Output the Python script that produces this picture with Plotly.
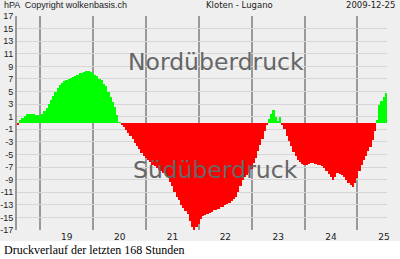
import plotly.graph_objects as go

# ---- data: hourly pressure difference Kloten - Lugano (hPa), last 168 hours
hours = list(range(168))
diff_hpa = [
    -0.3, 0.4, 0.8, 1.1, 1.4, 1.5, 1.5, 1.4, 1.3, 1.2,
    1.1, 1.5, 1.9, 2.4, 3.0, 3.6, 4.3, 5.0, 5.5, 6.0,
    6.3, 6.6, 6.8, 7.0, 7.1, 7.3, 7.5, 7.7, 7.9, 8.0,
    8.1, 8.2, 8.2, 8.1, 7.9, 7.7, 7.5, 7.0, 6.8, 6.2,
    5.8, 5.0, 4.2, 3.3, 2.5, 1.2, 0.1, -0.2, -0.6, -1.1,
    -1.6, -2.1, -2.6, -3.1, -3.7, -4.2, -4.7, -5.2, -5.6, -5.9,
    -6.2, -6.6, -6.9, -7.2, -7.5, -7.7, -8.0, -8.2, -8.6, -9.4,
    -10.0, -11.0, -11.7, -12.3, -13.0, -13.5, -14.0, -14.5, -15.5, -16.6,
    -17.0, -16.6, -16.0, -15.3, -14.8, -14.6, -14.4, -14.3, -14.1, -13.9,
    -13.8, -13.6, -13.4, -13.3, -13.1, -12.9, -12.7, -12.4, -12.1, -11.7,
    -11.0, -10.0, -9.1, -8.6, -8.2, -7.9, -7.3, -6.4, -5.5, -4.5,
    -3.5, -2.6, -1.3, -0.2, 0.6, 1.5, 2.0, 1.0, 0.2, 0.9,
    -0.3, -1.0, -2.0, -2.8, -3.6, -4.6, -5.2, -5.8, -6.2, -6.5,
    -6.7, -6.6, -6.5, -6.4, -6.4, -6.5, -6.6, -6.7, -6.8, -7.2,
    -7.6, -8.1, -8.6, -9.1, -8.6, -8.0, -8.1, -8.3, -8.6, -9.1,
    -9.5, -9.9, -10.2, -9.5, -8.8, -7.7, -6.6, -5.9, -5.3, -4.4,
    -3.8, -2.7, -1.3, 0.5, 2.8, 3.5, 4.2, 4.7,
]
day_labels = ["19", "20", "21", "22", "23", "24", "25"]
y_ticks = list(range(-17, 18, 2))

first_midnight = 10.6   # hour offset of 19 Dec 00:00 from window start
day_centers = [first_midnight + 12 + 24 * k for k in range(len(day_labels))]

x_mid = [h + 0.5 for h in hours]
colors = ["#00ff00" if v >= 0 else "#ff0000" for v in diff_hpa]

W, H = 400, 259
ML, MR, MT, MB = 17, 13, 16, 29
PW, PH = W - ML - MR, H - MT - MB


def px(x):
    return (x - ML) / PW


def py(y):
    return (H - MB - y) / PH


fig = go.Figure()
fig.add_trace(go.Bar(x=x_mid, y=diff_hpa, width=1.0, marker=dict(color=colors, line=dict(width=0)),
                     hoverinfo="x+y", showlegend=False))

BG = "#efefef"
xtick_font = dict(family="DejaVu Sans", size=9, color="#222222")
ytick_font = dict(family="Liberation Sans", size=9, color="#222222")

fig.update_layout(
    width=W, height=H,
    margin=dict(l=ML, r=MR, t=MT, b=MB, pad=0, autoexpand=False),
    paper_bgcolor="white",
    plot_bgcolor=BG,
    bargap=0,
    showlegend=False,
    xaxis=dict(
        range=[0, 168], tickmode="array", tickvals=day_centers, ticktext=day_labels,
        showgrid=False, zeroline=False, showline=False, ticks="", tickfont=xtick_font,
        minor=dict(tickmode="linear", tick0=first_midnight, dtick=24, showgrid=True,
                   gridcolor="#9a9a9a", gridwidth=1.5, ticks=""),
        fixedrange=True, automargin=False,
    ),
    yaxis=dict(
        range=[-17, 17], tickmode="array", tickvals=y_ticks, ticktext=[str(v) for v in y_ticks],
        showgrid=True, gridcolor="#d6d6d6", gridwidth=1, zeroline=False,
        showline=True, linecolor="#9a9a9a", linewidth=2, ticks="", tickfont=ytick_font,
        ticklabelstandoff=0, fixedrange=True, automargin=False,
    ),
    shapes=[dict(type="rect", xref="paper", yref="paper", x0=px(0), x1=px(W), y0=py(241), y1=py(0),
                 fillcolor=BG, line=dict(width=0), layer="below")],
)

hdr = dict(family="DejaVu Sans", size=8.5, color="#222222")
hdr2 = dict(family="Liberation Sans", size=9, color="#222222")
big = dict(family="DejaVu Sans", size=23.5, color="#666666")
ann = [
    dict(text="hPA  Copyright wolkenbasis.ch", x=px(2), y=py(5.5), xanchor="left", yanchor="middle", font=hdr2),
    dict(text="Kloten - Lugano", x=px(240), y=py(5.5), xanchor="center", yanchor="middle", font=hdr),
    dict(text="2009-12-25", x=px(397), y=py(5.5), xanchor="right", yanchor="middle", font=hdr),
    dict(text="Nordüberdruck", x=px(216), y=py(62), xanchor="center", yanchor="middle", font=big),
    dict(text="Südüberdruck", x=px(216), y=py(170), xanchor="center", yanchor="middle", font=big),
    dict(text="Druckverlauf der letzten 168 Stunden", x=px(2), y=py(250), xanchor="left", yanchor="middle",
         font=dict(family="Liberation Serif", size=12, color="#000000")),
]
for a in ann:
    a.update(xref="paper", yref="paper", showarrow=False)
fig.update_layout(annotations=ann)

fig.write_html("out.html")
